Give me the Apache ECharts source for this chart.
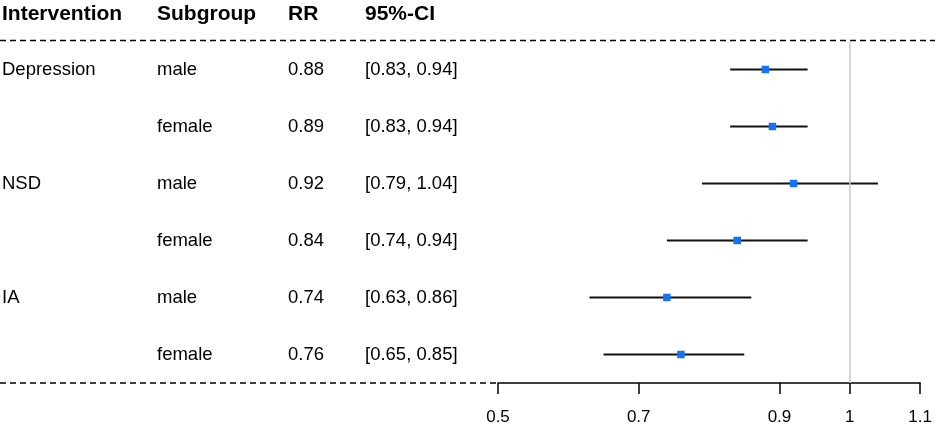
<!DOCTYPE html>
<html>
<head>
<meta charset="utf-8">
<script src="https://cdn.jsdelivr.net/npm/echarts@6/dist/echarts.min.js"></script>
<style>html,body{margin:0;padding:0;background:#fff}#c{width:935px;height:430px}</style>
</head>
<body>
<div id="c"></div>
<script>
// Data
var headers = ['Intervention', 'Subgroup', 'RR', '95%-CI'];
var interventions = ['Depression', '', 'NSD', '', 'IA', ''];
var subgroups = ['male', 'female', 'male', 'female', 'male', 'female'];
var rr = [0.88, 0.89, 0.92, 0.84, 0.74, 0.76];
var ciLow = [0.83, 0.83, 0.79, 0.74, 0.63, 0.65];
var ciHigh = [0.94, 0.94, 1.04, 0.94, 0.86, 0.85];
var xTicks = [0.5, 0.7, 0.9, 1, 1.1];

var FONT = "'Liberation Sans', Arial, sans-serif";
var colX = [2, 157, 288, 365];

var rows = rr.map(function (v, i) {
  return [i + 1, v, ciLow[i], ciHigh[i], i];
});

var chart = echarts.init(document.getElementById('c'));
chart.setOption({
  animation: false,
  backgroundColor: '#fff',
  grid: { left: 498, right: 14, top: 41, bottom: 47 },
  xAxis: {
    type: 'value', min: 0.5, max: 1.1,
    splitLine: { show: false },
    axisLine: { show: true, lineStyle: { color: '#000', width: 1.5 } },
    axisTick: { show: true, length: 11, customValues: xTicks, lineStyle: { color: '#000', width: 1.5 } },
    axisLabel: { customValues: xTicks, color: '#000', fontSize: 17, fontFamily: FONT, margin: 26,
      formatter: function (v) { return String(v); } }
  },
  yAxis: { type: 'value', min: 0.5, max: 6.5, inverse: true, show: false },
  graphic: [
    { type: 'text', left: colX[0], top: 4, style: { text: headers[0], font: 'bold 21px ' + FONT, fill: '#000' } },
    { type: 'text', left: colX[1], top: 4, style: { text: headers[1], font: 'bold 21px ' + FONT, fill: '#000' } },
    { type: 'text', left: colX[2], top: 4, style: { text: headers[2], font: 'bold 21px ' + FONT, fill: '#000' } },
    { type: 'text', left: colX[3], top: 4, style: { text: headers[3], font: 'bold 21px ' + FONT, fill: '#000' } },
    { type: 'line', shape: { x1: 0, y1: 40.5, x2: 935, y2: 40.5 }, style: { stroke: '#000', lineWidth: 1.5, lineDash: [6, 4] } },
    { type: 'line', shape: { x1: 0, y1: 383, x2: 498, y2: 383 }, style: { stroke: '#000', lineWidth: 1.5, lineDash: [6, 4] } }
  ],
  series: [
    {
      type: 'line', data: [], silent: true,
      markLine: {
        symbol: 'none', silent: true, label: { show: false },
        lineStyle: { color: '#c8c8c8', width: 1.5, type: 'solid' },
        data: [{ xAxis: 1 }]
      }
    },
    {
      type: 'custom', clip: false, silent: true,
      data: rows,
      renderItem: function (params, api) {
        var row = api.value(0);
        var p = api.coord([api.value(1), row]);
        var a = api.coord([api.value(2), row]);
        var b = api.coord([api.value(3), row]);
        var i = api.value(4);
        var y = p[1];
        var s = 7.5;
        var ts = { font: '18.5px ' + FONT, fill: '#000', verticalAlign: 'middle', align: 'left' };
        function txt(x, t) {
          return { type: 'text', style: Object.assign({ x: x, y: y, text: t }, ts) };
        }
        return {
          type: 'group',
          children: [
            txt(colX[0], interventions[i]),
            txt(colX[1], subgroups[i]),
            txt(colX[2], rr[i].toFixed(2)),
            txt(colX[3], '[' + ciLow[i].toFixed(2) + ', ' + ciHigh[i].toFixed(2) + ']'),
            { type: 'line', shape: { x1: a[0], y1: y, x2: b[0], y2: y }, style: { stroke: '#111', lineWidth: 2 } },
            { type: 'rect', shape: { x: p[0] - s / 2, y: y - s / 2, width: s, height: s }, style: { fill: '#1872ee' } }
          ]
        };
      }
    }
  ]
});
</script>
</body>
</html>
